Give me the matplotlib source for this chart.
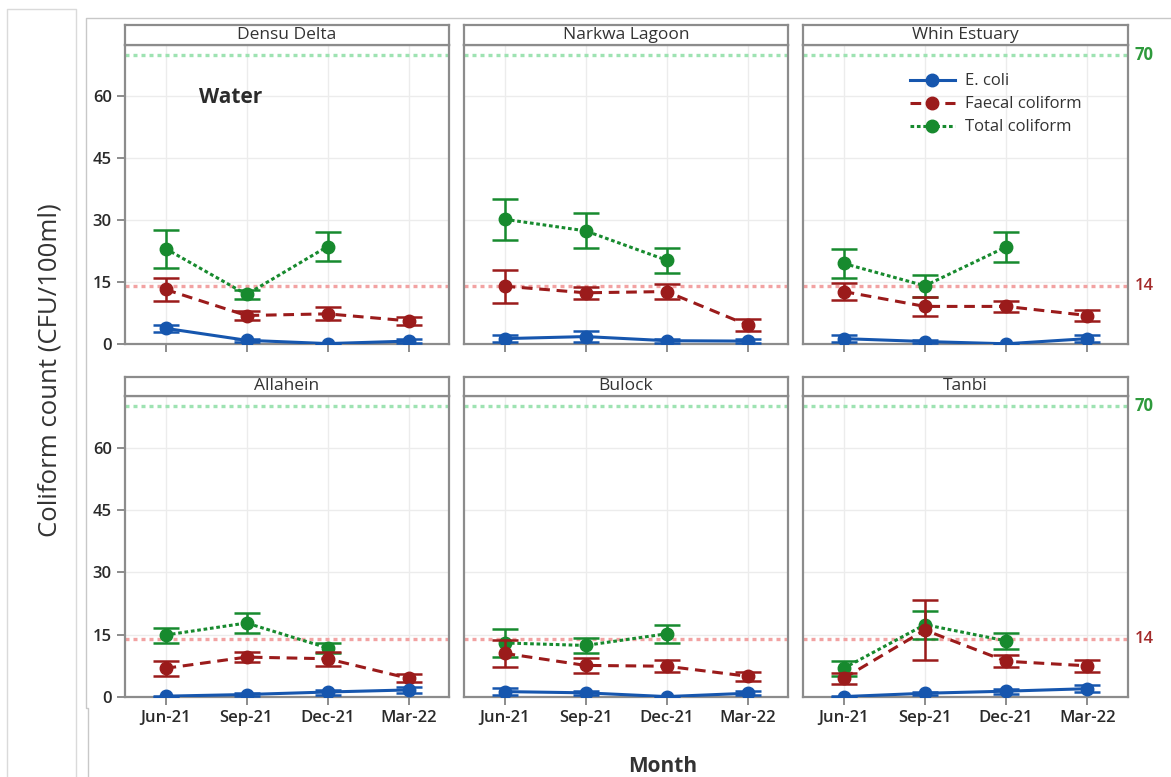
import numpy as np
import matplotlib
matplotlib.use('Agg')
from matplotlib import pyplot as plt
from matplotlib.lines import Line2D
from matplotlib.transforms import blended_transform_factory

plt.rcParams['font.family'] = ['Open Sans', 'DejaVu Sans']

months = ['Jun-21', 'Sep-21', 'Dec-21', 'Mar-22']
sites = ['Densu Delta', 'Narkwa Lagoon', 'Whin Estuary', 'Allahein', 'Bulock', 'Tanbi']

# means and +/- error for each site, one row per site
ecoli_mean = [[3.8, 0.9, 0.1, 0.7],
              [1.3, 1.8, 0.8, 0.7],
              [1.3, 0.6, 0.05, 1.3],
              [0.2, 0.6, 1.2, 1.7],
              [1.3, 1.0, 0.1, 0.9],
              [0.1, 0.9, 1.4, 2.0]]
ecoli_err = [[0.8, 0.3, 0.1, 0.4],
             [0.8, 1.4, 0.5, 0.4],
             [0.8, 0.3, 0.1, 0.8],
             [0.1, 0.3, 0.6, 0.8],
             [0.8, 0.5, 0.1, 0.5],
             [0.1, 0.4, 0.6, 0.8]]
faecal_mean = [[13.2, 6.9, 7.3, 5.6],
               [14.0, 12.4, 12.7, 4.6],
               [12.7, 9.1, 9.1, 6.9],
               [6.9, 9.6, 9.2, 4.5],
               [10.5, 7.6, 7.4, 5.0],
               [4.5, 16.1, 8.6, 7.5]]
faecal_err = [[2.8, 1.2, 1.6, 0.9],
              [4.0, 1.4, 1.8, 1.4],
              [2.1, 2.2, 1.4, 1.3],
              [1.8, 1.3, 1.7, 1.0],
              [3.2, 1.9, 1.4, 1.1],
              [1.3, 7.3, 1.5, 1.4]]
total_mean = [[23.1, 12.0, 23.6, np.nan],
              [30.2, 27.4, 20.3, np.nan],
              [19.5, 14.1, 23.5, np.nan],
              [14.9, 17.8, 11.8, np.nan],
              [13.0, 12.4, 15.2, np.nan],
              [6.9, 17.4, 13.5, np.nan]]
total_err = [[4.6, 1.1, 3.4, np.nan],
             [5.0, 4.2, 3.0, np.nan],
             [3.6, 2.6, 3.7, np.nan],
             [1.8, 2.4, 1.3, np.nan],
             [3.3, 1.8, 2.2, np.nan],
             [1.8, 3.4, 2.0, np.nan]]

faecal_limit = 14
total_limit = 70

W, H = 1171, 777
fig = plt.figure(figsize=(W / 100, H / 100), dpi=100)


def box(x0, y0, x1, y1):
    # pixel box (top-left origin) -> figure fraction rect
    return [x0 / W, 1 - y1 / H, (x1 - x0) / W, (y1 - y0) / H]


def pline(xs, ys, color):
    fig.add_artist(Line2D([x / W for x in xs], [1 - y / H for y in ys],
                          color=color, lw=1, transform=fig.transFigure))


# thin page borders around the graph
pline([7, 7, 76, 76], [777, 9, 9, 777], '#dadada')
pline([88, 88, 86, 86, 1171], [777, 708, 708, 18, 18], '#c8c8c8')

cols = [(125, 449), (464, 788), (803, 1128)]
rows = [(25, 45, 344), (377, 396, 697)]

blue, red, green = '#1656AE', '#9B1B1B', '#178A2E'
frame = '#8c8c8c'
txt = '#333333'
x = np.arange(len(months))
ms = 9
green_ls = (0, (1.2, 0.9))
red_ls = (0, (3.5, 2.2))

axes = []
for i, site in enumerate(sites):
    r, c = divmod(i, 3)
    sx0, sx1 = cols[c]
    st, pt, pb = rows[r]
    ax = fig.add_axes(box(sx0, pt, sx1, pb))
    strip = fig.add_axes(box(sx0, st, sx1, pt))
    strip.set_xticks([])
    strip.set_yticks([])
    for s in strip.spines.values():
        s.set_color(frame)
        s.set_linewidth(1.6)
    strip.text(0.5, 0.5, site, ha='center', va='center', fontsize=12.5, color=txt)

    ax.set_xlim(-0.5, 3.5)
    ax.set_ylim(0, 72.4)
    ax.set_yticks([0, 15, 30, 45, 60])
    ax.set_xticks(x)
    ax.grid(True, color='#ececec', lw=1)
    ax.set_axisbelow(True)
    for s in ax.spines.values():
        s.set_color(frame)
        s.set_linewidth(1.6)
    ax.tick_params(axis='both', color=frame, width=1.4, length=6,
                   labelsize=12, labelcolor='#2a2a2a')
    if c == 0:
        ax.set_yticklabels(['0', '15', '30', '45', '60'], fontweight='semibold')
    else:
        ax.tick_params(axis='y', length=0, labelleft=False)
    if r == 1:
        ax.set_xticklabels(months, fontweight='semibold')
    else:
        ax.tick_params(axis='x', labelbottom=False)

    ax.axhline(total_limit, color='#9EE3B2', lw=2.4, ls=(0, (1.2, 1.2)), zorder=1)
    ax.axhline(faecal_limit, color='#F2A2A2', lw=2.4, ls=(0, (1.2, 1.2)), zorder=1)

    ax.errorbar(x, total_mean[i], yerr=total_err[i], color=green, lw=2.2,
                ls=green_ls, marker='o', ms=ms, capsize=9.5,
                elinewidth=1.8, capthick=1.8, zorder=3)
    ax.errorbar(x, faecal_mean[i], yerr=faecal_err[i], color=red, lw=2.2,
                ls=red_ls, marker='o', ms=ms, capsize=9.5,
                elinewidth=1.8, capthick=1.8, zorder=4)
    ax.errorbar(x, ecoli_mean[i], yerr=ecoli_err[i], color=blue, lw=2.2,
                ls='-', marker='o', ms=ms, capsize=9.5,
                elinewidth=1.8, capthick=1.8, zorder=5)
    axes.append(ax)

    if c == 2:
        tr = blended_transform_factory(fig.transFigure, ax.transData)
        ax.text(1144 / W, total_limit, '70', transform=tr, ha='center', va='center',
                fontsize=12, fontweight='bold', color='#2E9A3C')
        ax.text(1144 / W, faecal_limit, '14', transform=tr, ha='center', va='center',
                fontsize=12, fontweight='semibold', color='#A32A2A')

axes[0].text(0.325, 0.826, 'Water', transform=axes[0].transAxes, ha='center',
             va='center', fontsize=15, fontweight='bold', color='#2b2b2b')

handles = [Line2D([], [], color=blue, lw=2.2, ls='-', marker='o', ms=ms),
           Line2D([], [], color=red, lw=2.2, ls=red_ls, marker='o', ms=ms),
           Line2D([], [], color=green, lw=2.2, ls=green_ls, marker='o', ms=ms)]
axes[2].legend(handles, ['E. coli', 'Faecal coliform', 'Total coliform'],
               loc='upper left', bbox_to_anchor=(0.282, 0.955), frameon=False,
               fontsize=12, handlelength=2.7, handletextpad=0.65,
               labelspacing=0.42, labelcolor=txt)

fig.text(50 / W, 1 - 370 / H, 'Coliform count (CFU/100ml)', rotation=90,
         ha='center', va='center', fontsize=18.5, color=txt)
fig.text(663 / W, 1 - 766 / H, 'Month', ha='center', va='center',
         fontsize=15, fontweight='bold', color=txt)

fig.savefig('out.png', dpi=100)
